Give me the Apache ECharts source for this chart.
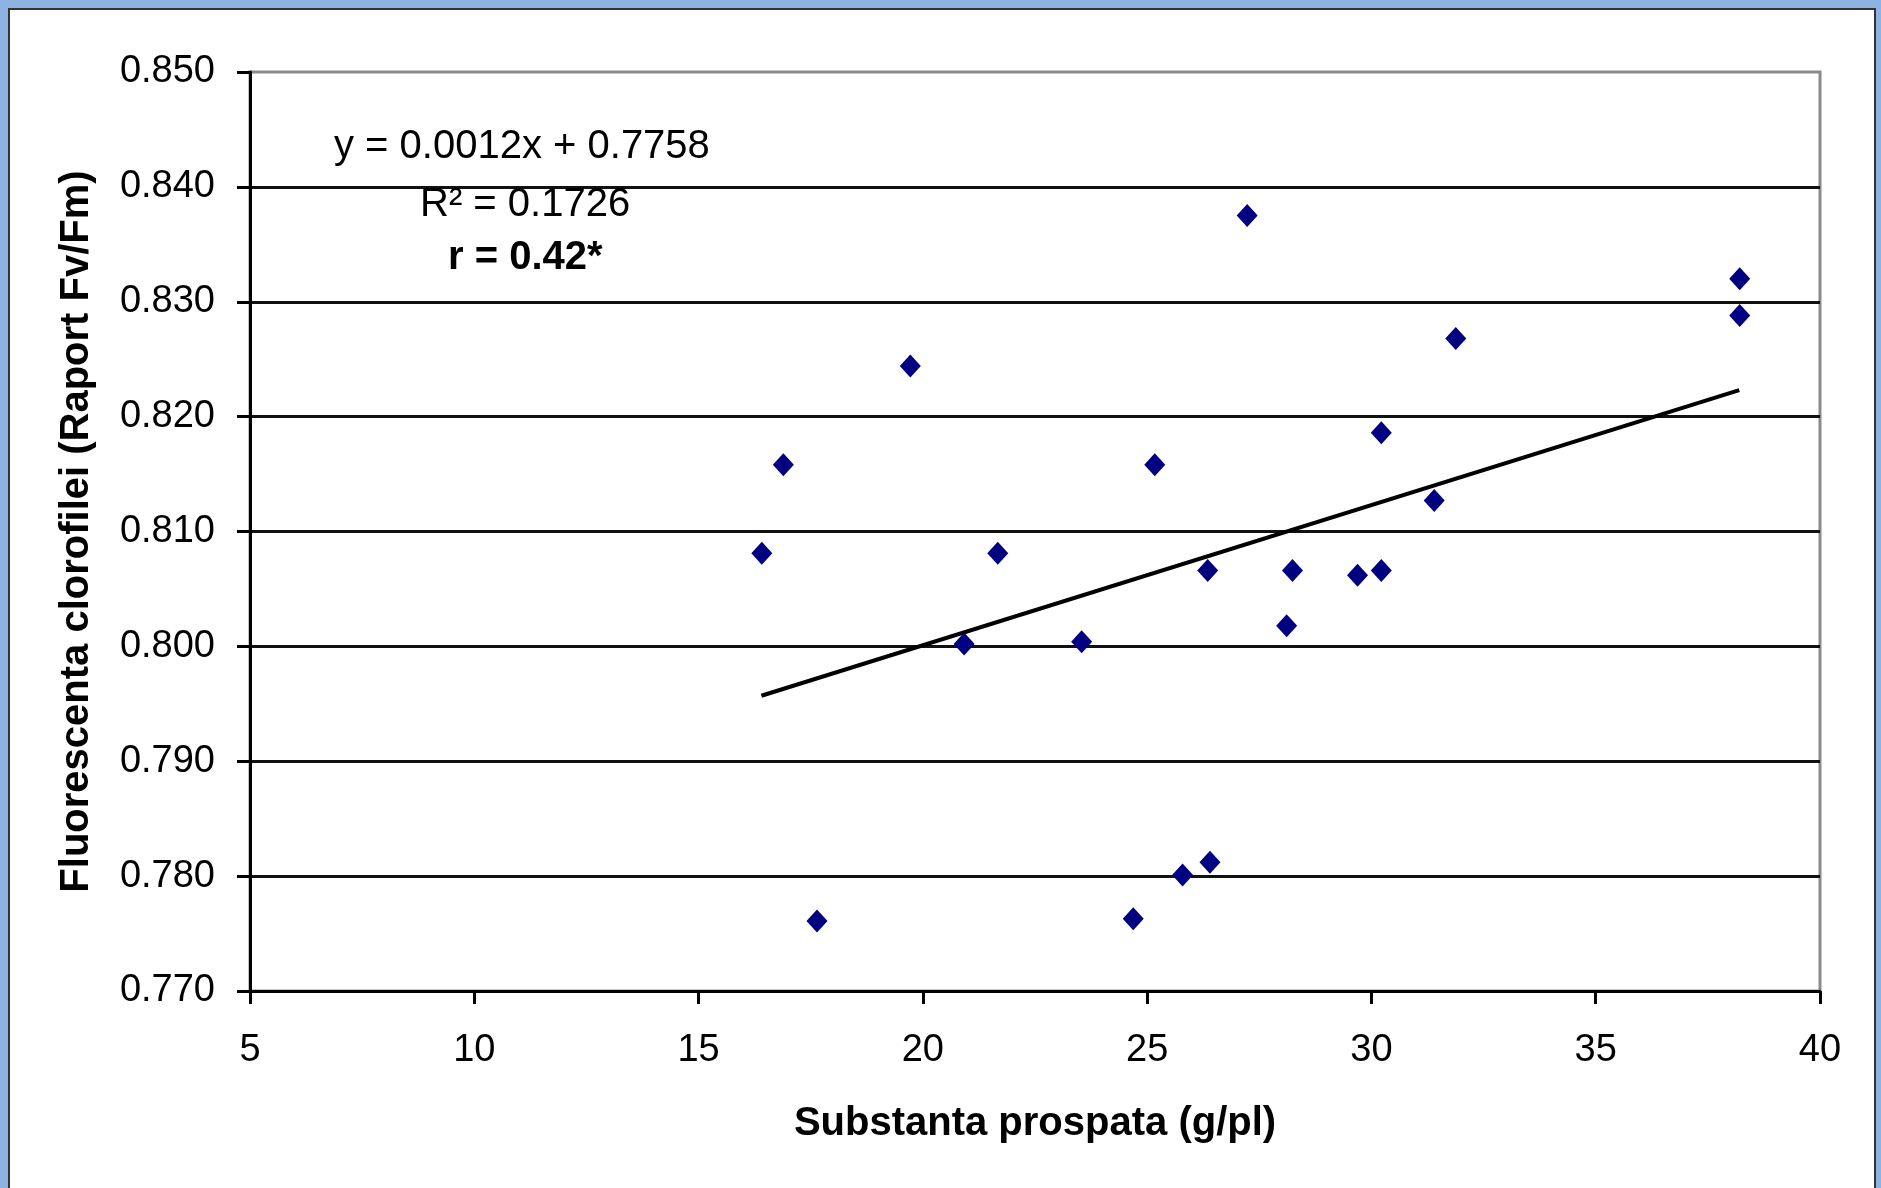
<!DOCTYPE html>
<html>
<head>
<meta charset="utf-8">
<script src="https://cdn.jsdelivr.net/npm/echarts@6/dist/echarts.min.js"></script>
<style>
  html, body { margin:0; padding:0; background:#8db3e2; }
  #chart { width:1881px; height:1188px; }
</style>
</head>
<body>
<div id="chart"></div>
<script type="text/javascript">
// substanta prospata (g/pl) vs fluorescenta clorofilei (Fv/Fm)
var substX = [16.41, 16.89, 17.64, 19.72, 20.92, 21.67, 23.54, 24.69, 25.17, 25.79, 26.35,
              26.40, 27.23, 28.11, 28.24, 29.69, 30.22, 30.22, 31.40, 31.88, 38.21, 38.21];
var fluorY = [0.8081, 0.8158, 0.7761, 0.8244, 0.8002, 0.8081, 0.8004, 0.7763, 0.8158, 0.7801, 0.8066,
              0.7812, 0.8375, 0.8018, 0.8066, 0.8062, 0.8066, 0.8186, 0.8127, 0.8268, 0.8320, 0.8288];
// linear trend line ends
var trendX = [16.4, 38.2];
var trendY = [0.7957, 0.8223];
var eqLines = ['y = 0.0012x + 0.7758', 'R\u00b2 = 0.1726', 'r = 0.42*'];

var font = "'Liberation Sans', Arial, sans-serif";
var pts = [];
for (var i = 0; i < substX.length; i++) {
  pts.push([substX[i], fluorY[i]]);
}
var trend = [];
for (var j = 0; j < trendX.length; j++) {
  trend.push([trendX[j], trendY[j]]);
}

var myChart = echarts.init(document.getElementById('chart'));
var option = {
  backgroundColor: '#8db3e2',
  animation: false,
  graphic: [
    {
      type: 'rect', z: -10,
      shape: { x: 9, y: 9, width: 1866, height: 1200 },
      style: { fill: '#ffffff', stroke: '#333333', lineWidth: 2 }
    },
    {
      type: 'text', left: 334, top: 127, z: 50,
      style: { text: eqLines[0], font: '40px ' + font, fill: '#000' }
    },
    {
      type: 'text', left: 420, top: 185, z: 50,
      style: { text: eqLines[1], font: '40px ' + font, fill: '#000' }
    },
    {
      type: 'text', left: 448, top: 238, z: 50,
      style: { text: eqLines[2], font: 'bold 40px ' + font, fill: '#000' }
    }
  ],
  grid: {
    left: 250, top: 72, right: 61, bottom: 197,
    show: true,
    borderColor: '#8a8a8a',
    borderWidth: 3,
    backgroundColor: 'transparent'
  },
  xAxis: {
    type: 'value',
    min: 5, max: 40, interval: 5,
    name: 'Substanta prospata (g/pl)',
    nameLocation: 'middle',
    nameGap: 113,
    nameTextStyle: { fontFamily: font, fontWeight: 'bold', fontSize: 40, color: '#000' },
    axisLine: { lineStyle: { color: '#000', width: 3 } },
    axisTick: { show: true, length: 13, lineStyle: { color: '#000', width: 3 } },
    axisLabel: { fontFamily: font, fontSize: 38, color: '#000', margin: 41 },
    splitLine: { show: false }
  },
  yAxis: {
    type: 'value',
    min: 0.77, max: 0.85, interval: 0.01,
    name: 'Fluorescenta clorofilei (Raport Fv/Fm)',
    nameLocation: 'middle',
    nameGap: 153,
    nameTextStyle: { fontFamily: font, fontWeight: 'bold', fontSize: 40, color: '#000' },
    axisLine: { show: true, lineStyle: { color: '#000', width: 3 } },
    axisTick: { show: true, length: 13, lineStyle: { color: '#000', width: 3 } },
    axisLabel: {
      fontFamily: font, fontSize: 38, color: '#000', margin: 35,
      formatter: function (v) { return v.toFixed(3); }
    },
    splitLine: { show: true, showMaxLine: false, lineStyle: { color: '#111', width: 3 } }
  },
  series: [
    {
      name: 'puncte',
      type: 'scatter',
      symbol: 'diamond',
      symbolSize: [21, 23],
      itemStyle: { color: '#000080', opacity: 1 },
      data: pts,
      z: 5
    },
    {
      name: 'trend',
      type: 'line',
      showSymbol: false,
      symbol: 'none',
      lineStyle: { color: '#000', width: 4 },
      data: trend,
      z: 4
    }
  ]
};
myChart.setOption(option);
</script>
</body>
</html>
